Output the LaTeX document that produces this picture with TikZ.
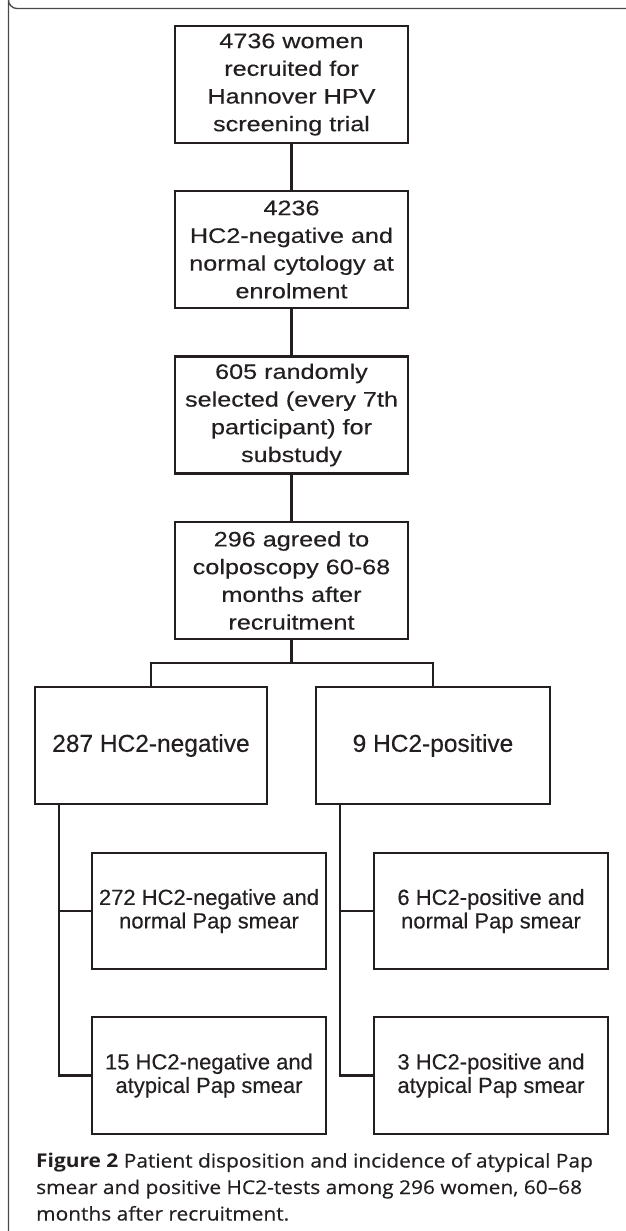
\documentclass[tikz,border=0pt]{standalone}
\usepackage{fontspec}
\setmainfont{Liberation Sans}
\newfontfamily\wideboxfont[FakeStretch=1.2, FakeBold=0.3]{Liberation Sans}
\newfontfamily\plainboxfont[FakeBold=0.3]{Liberation Sans}
\newfontfamily\capfont[FakeStretch=1.1, FakeBold=0.4, BoldFeatures={FakeBold=0}]{Open Sans}
\definecolor{ink}{HTML}{231F20}
\definecolor{framegray}{HTML}{4A4A4A}
\tikzset{
  topbox/.style={draw=ink, line width=2.6pt, inner sep=0pt, outer sep=0pt,
    minimum width=233pt, minimum height=117pt, align=center, text=ink,
    font=\wideboxfont\fontsize{21pt}{27.7pt}\selectfont},
  midbox/.style={draw=ink, line width=2.6pt, inner sep=0pt, outer sep=0pt,
    minimum width=233pt, minimum height=117pt, align=center, text=ink,
    font=\plainboxfont\fontsize{24.5pt}{28pt}\selectfont},
  lowbox/.style={draw=ink, line width=2.6pt, inner sep=0pt, outer sep=0pt,
    minimum width=234pt, minimum height=116pt, align=center, text=ink,
    font=\plainboxfont\fontsize{22pt}{23.5pt}\selectfont},
  conn/.style={draw=ink, line width=2.6pt, line join=miter},
  capline/.style={anchor=base west, inner sep=0pt, text=ink,
    font=\capfont\fontsize{19pt}{24pt}\selectfont},
}
\begin{document}
\begin{tikzpicture}[x=1pt, y=-1pt]
\useasboundingbox (0,0) rectangle (625,1231);
% outer frame
\draw[framegray, line width=1.3pt] (626,8.5) -- (17,8.5) arc[start angle=90, end angle=180, radius=8.5] -- (8.5,1232);

\node[topbox] (b1) at (291.5,84.5) {4736 women\\recruited for\\Hannover HPV\\screening trial};
\node[topbox] (b2) at (291.5,249.5) {4236\\HC2-negative and\\normal cytology at\\enrolment};
\node[topbox] (b3) at (291.5,415) {605 randomly\\selected (every 7th\\participant) for\\substudy};
\node[topbox] (b4) at (291.5,580.5) {296 agreed to\\colposcopy 60-68\\months after\\recruitment};

\node[midbox, minimum width=232pt] (b5) at (151,745.5) {287 HC2-negative};
\node[midbox, minimum width=234pt] (b6) at (433,745.5) {9 HC2-positive};

\node[lowbox] (b7) at (209,911) {272 HC2-negative and\\normal Pap smear};
\node[lowbox] (b8) at (491,911) {6 HC2-positive and\\normal Pap smear};
\node[lowbox, minimum height=117pt] (b9) at (209,1075.5) {15 HC2-negative and\\atypical Pap smear};
\node[lowbox, minimum height=117pt] (b10) at (491,1075.5) {3 HC2-positive and\\atypical Pap smear};

\draw[conn] (b1.south) -- (b2.north);
\draw[conn] (b2.south) -- (b3.north);
\draw[conn] (b3.south) -- (b4.north);
\coordinate (j) at (291.5,663);
\draw[conn] (b4.south) -- (j);
\draw[conn] (b5.north) |- (j) -| (b6.north);

\coordinate (tl) at ([xshift=24pt]b5.south west);
\coordinate (tr) at ([xshift=24pt]b6.south west);
\draw[conn] (tl) |- (b9.west);
\draw[conn] (b7.west) -- (b7.west -| tl);
\draw[conn] (tr) |- (b10.west);
\draw[conn] (b8.west) -- (b8.west -| tr);

\node[capline] (c1) at (36,1167.5) {\textbf{Figure 2} Patient disposition and incidence of atypical Pap};
\node[capline] (c2) at (36,1194) {smear and positive HC2-tests among 296 women, 60–68};
\node[capline] (c3) at (36,1220.5) {months after recruitment.};
\end{tikzpicture}
\end{document}
